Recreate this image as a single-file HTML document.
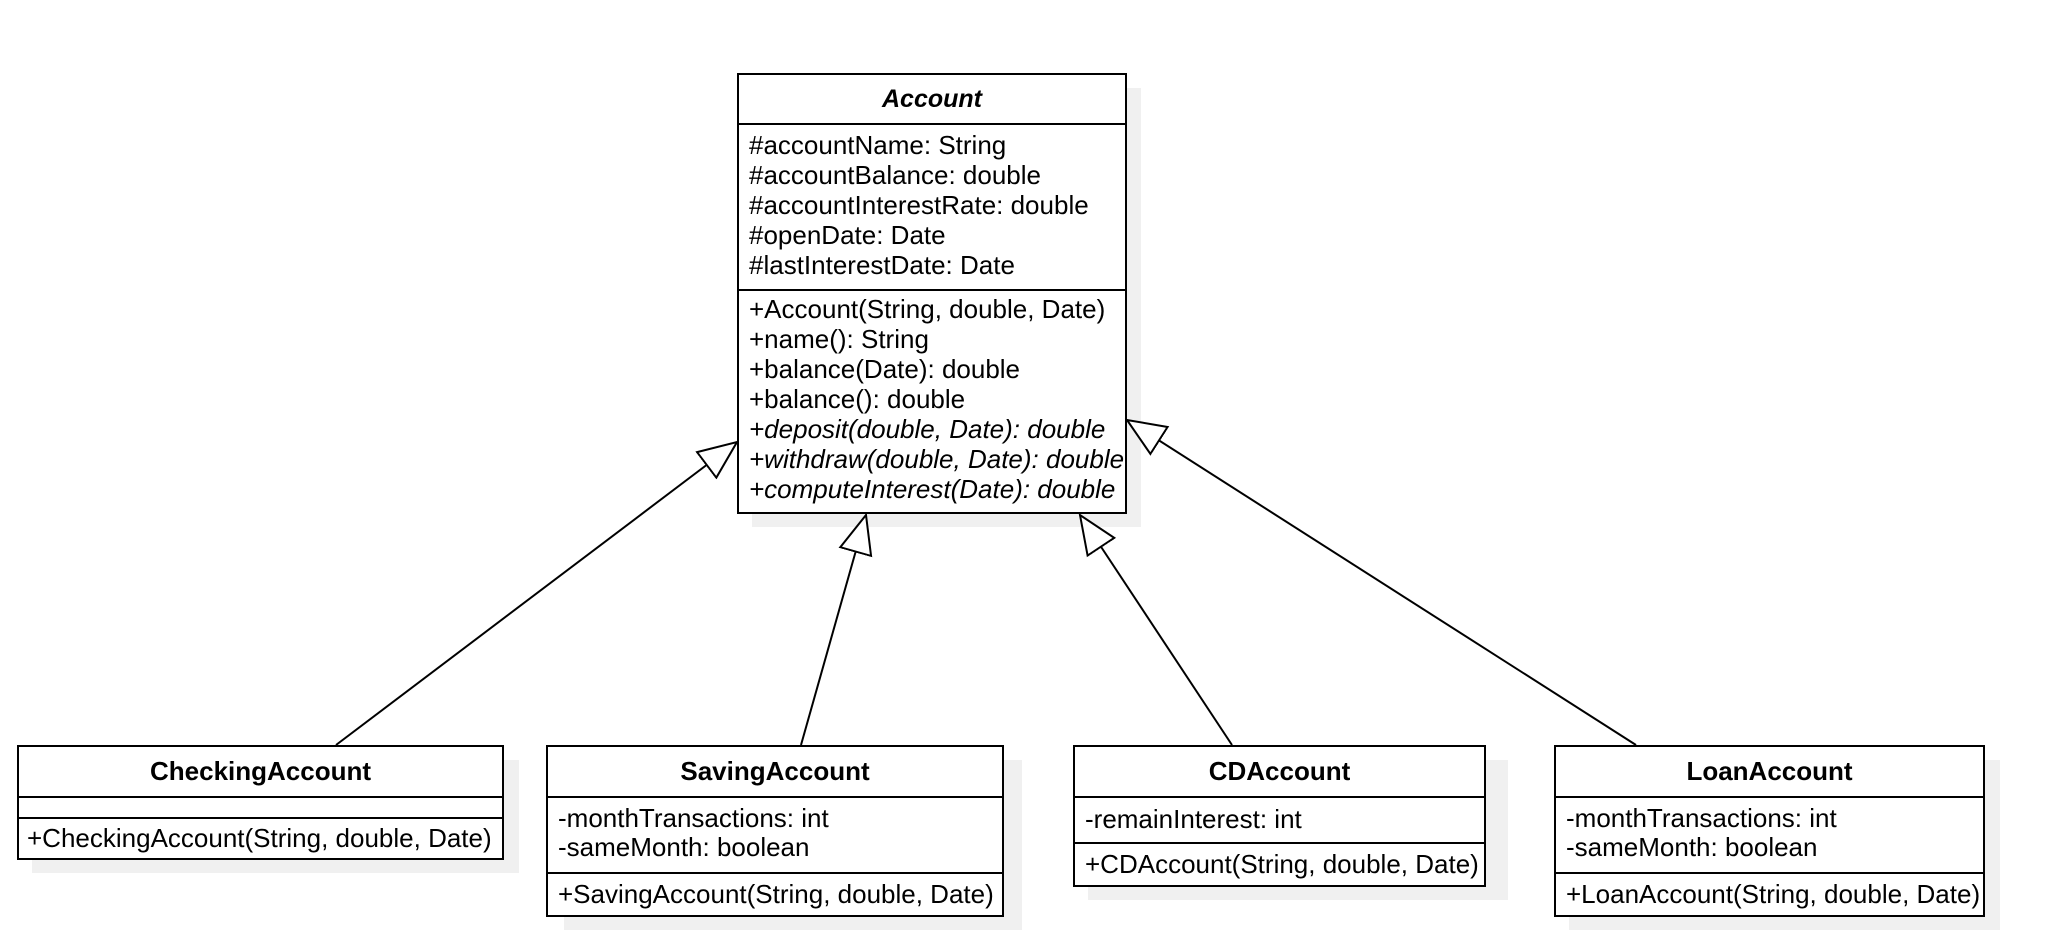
<!DOCTYPE html>
<html><head><meta charset="utf-8"><style>
html,body{margin:0;padding:0;background:#fff;}
body{width:2068px;height:942px;position:relative;overflow:hidden;font-family:"Liberation Sans",sans-serif;}
.sh{position:absolute;background:#f0f0f0;}
.box{position:absolute;border:2px solid #000;background:#fff;box-sizing:border-box;}
.hd{border-bottom:2px solid #000;box-sizing:border-box;text-align:center;font-weight:bold;font-size:26px;}
.sec{border-bottom:2px solid #000;box-sizing:border-box;padding-left:10px;font-size:26px;line-height:30px;white-space:nowrap;}
.sec:last-child{border-bottom:none;}
i{font-style:italic;}
svg{position:absolute;left:0;top:0;}
</style></head><body>
<div class="sh" style="left:752px;top:88px;width:389px;height:439px"></div>
<div class="box" style="left:737px;top:73px;width:390px;height:441px">
 <div class="hd" style="height:50px;line-height:48px;font-style:italic;font-size:25px">Account</div>
 <div class="sec" style="height:166px;padding-top:5px">#accountName: String<br>#accountBalance: double<br>#accountInterestRate: double<br>#openDate: Date<br>#lastInterestDate: Date</div>
 <div class="sec" style="padding-top:3px">+Account(String, double, Date)<br>+name(): String<br>+balance(Date): double<br>+balance(): double<br><i>+deposit(double, Date): double</i><br><i>+withdraw(double, Date): double</i><br><i>+computeInterest(Date): double</i></div>
</div>

<div class="sh" style="left:32px;top:760px;width:487px;height:113px"></div>
<div class="box" style="left:17px;top:745px;width:487px;height:115px">
 <div class="hd" style="height:51px;line-height:49px">CheckingAccount</div>
 <div class="sec" style="height:21px"></div>
 <div class="sec" style="padding-left:8px;line-height:38px">+CheckingAccount(String, double, Date)</div>
</div>

<div class="sh" style="left:564px;top:760px;width:458px;height:170px"></div>
<div class="box" style="left:546px;top:745px;width:458px;height:172px">
 <div class="hd" style="height:51px;line-height:49px">SavingAccount</div>
 <div class="sec" style="height:76px;padding-top:6px;line-height:29px">-monthTransactions: int<br>-sameMonth: boolean</div>
 <div class="sec" style="line-height:40px">+SavingAccount(String, double, Date)</div>
</div>

<div class="sh" style="left:1088px;top:760px;width:420px;height:140px"></div>
<div class="box" style="left:1073px;top:745px;width:413px;height:142px">
 <div class="hd" style="height:51px;line-height:49px">CDAccount</div>
 <div class="sec" style="height:46px;line-height:42px">-remainInterest: int</div>
 <div class="sec" style="line-height:40px">+CDAccount(String, double, Date)</div>
</div>

<div class="sh" style="left:1569px;top:760px;width:431px;height:170px"></div>
<div class="box" style="left:1554px;top:745px;width:431px;height:172px">
 <div class="hd" style="height:51px;line-height:49px">LoanAccount</div>
 <div class="sec" style="height:76px;padding-top:6px;line-height:29px">-monthTransactions: int<br>-sameMonth: boolean</div>
 <div class="sec" style="line-height:40px">+LoanAccount(String, double, Date)</div>
</div>

<svg width="2068" height="942" viewBox="0 0 2068 942">
<defs><marker id="tri" markerUnits="userSpaceOnUse" markerWidth="42" markerHeight="36" refX="39" refY="18" orient="auto" viewBox="0 0 42 36">
<path d="M1,2 L39,18 L1,34 Z" fill="#fff" stroke="#000" stroke-width="2"/></marker></defs>
<g stroke="#000" stroke-width="2" fill="none">
<line x1="336" y1="745" x2="737" y2="442" marker-end="url(#tri)"/>
<line x1="801" y1="745" x2="866" y2="515" marker-end="url(#tri)"/>
<line x1="1232" y1="745" x2="1080" y2="515" marker-end="url(#tri)"/>
<line x1="1636" y1="745" x2="1127" y2="420" marker-end="url(#tri)"/>
</g></svg>
</body></html>
